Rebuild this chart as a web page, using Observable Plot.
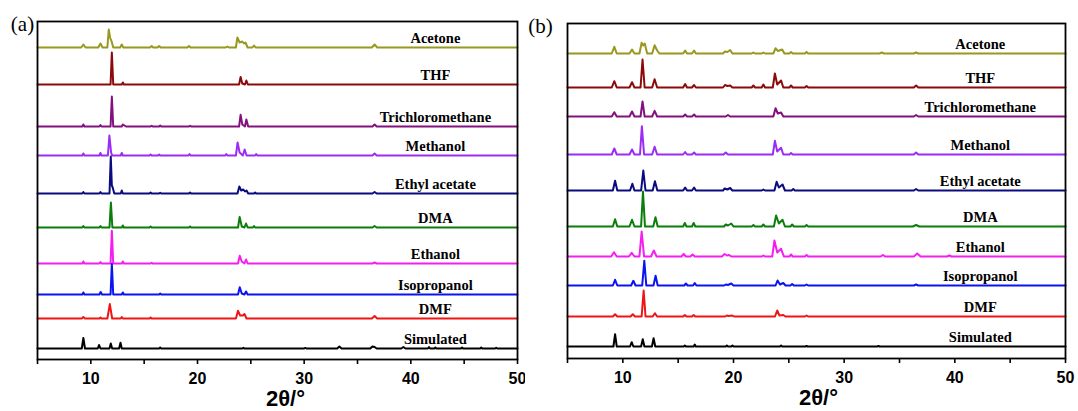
<!DOCTYPE html>
<html><head><meta charset="utf-8">
<script src="https://cdn.jsdelivr.net/npm/d3@7"></script>
<script src="https://cdn.jsdelivr.net/npm/@observablehq/plot@0.6"></script>
<style>
body{margin:0;background:#fff;}
#fig{position:relative;width:1078px;height:411px;background:#fff;}
#pa{position:absolute;left:0;top:0;}
#pb{position:absolute;left:525px;top:0;}
</style></head><body><div id="fig"><div id="pa"></div><div id="pb"></div></div>
<script>
// ---- categories ----
const solvents = ["Acetone","THF","Trichloromethane","Methanol","Ethyl acetate","DMA","Ethanol","Isopropanol","DMF","Simulated"];
const colors = ["#98981e","#8b0a0a","#83107f","#9a2cf5","#0b0b80","#0a7d0a","#f51ef0","#0a14f0","#f01414","#000000"];
// stacking offsets (a.u.)
const offsetsA = [312, 275, 233, 204, 166, 132, 96, 65, 41, 11];
const offsetsB = [305, 271, 242, 204, 168, 132, 102, 73, 42, 12];
// x ticks
const xTicks = [5,10,15,20,25,30,35,40,45,50];
const xTickLabels = ["","10","","20","","30","","40","","50"];
const xTitle = "2θ/°";
const tags = ["(a)","(b)"];

// ---- panel (a) patterns: [2θ, intensity] ----
const acetoneA = [[5,0],[9.1,0],[9.3,3],[9.5,0],[10.7,0],[10.9,4],[11.1,0],[11.55,0],[11.68,18],[11.8,10],[11.95,6],[12.1,0],[12.75,0],[12.9,3],[13.05,0],[15.55,0],[15.7,1.5],[15.85,0],[16.25,0],[16.4,1.5],[16.55,0],[19.05,0],[19.2,1.5],[19.35,0],[22.65,0],[22.8,1],[22.95,0],[23.6,0],[23.74,10],[23.95,5],[24.2,6],[24.35,4],[24.5,5],[24.7,0],[25.15,0],[25.3,2],[25.45,0],[36.35,0],[36.6,3],[36.85,0],[50,0]];
const thfA = [[5,0],[11.85,0],[11.97,32],[12.1,0],[12.9,0],[13.0,2],[13.1,0],[23.9,0],[24.04,7.5],[24.2,1],[24.45,0],[24.58,4],[24.72,0],[50,0]];
const trichloroA = [[5,0],[9.2,0],[9.3,2],[9.4,0],[10.8,0],[10.9,1.5],[11.0,0],[11.85,0],[11.97,30],[12.1,0],[12.9,0],[13.0,2],[13.15,1],[13.3,0],[15.6,0],[15.7,0.8],[15.8,0],[16.4,0],[16.5,1],[16.6,0],[19.2,0],[19.3,0.8],[19.4,0],[23.9,0],[24.04,11.7],[24.2,2],[24.45,0],[24.58,7],[24.75,0],[36.4,0],[36.6,2],[36.8,0],[50,0]];
const methanolA = [[5,0],[9.2,0],[9.3,2],[9.4,0],[10.8,0],[10.9,2.5],[11.0,0],[11.6,0],[11.74,20],[11.9,3],[12.0,0],[12.8,0],[12.9,2.5],[13.0,0],[15.5,0],[15.6,1],[15.7,0],[16.3,0],[16.4,1],[16.5,0],[19.15,0],[19.25,1.5],[19.35,0],[22.6,0],[22.7,1.5],[22.8,0],[23.6,0],[23.76,13],[23.95,3],[24.25,0],[24.42,6],[24.6,0],[25.4,0],[25.5,1.5],[25.6,0],[36.4,0],[36.6,2],[36.8,0],[50,0]];
const ethylA = [[5,0],[9.2,0],[9.3,1.5],[9.4,0],[10.8,0],[10.9,1.5],[11.0,0],[11.75,0],[11.87,37],[11.97,8],[12.05,6],[12.2,0],[12.8,0],[12.9,3],[13.0,0],[15.5,0],[15.6,1],[15.7,0],[16.4,0],[16.5,0.8],[16.6,0],[19.2,0],[19.3,1],[19.4,0],[23.75,0],[23.92,7],[24.1,3],[24.3,4],[24.45,2],[24.6,3],[24.75,0],[25.3,0],[25.4,1],[25.5,0],[36.4,0],[36.6,1.5],[36.8,0],[50,0]];
const dmaA = [[5,0],[9.2,0],[9.3,1.5],[9.4,0],[10.8,0],[10.9,1.5],[11.0,0],[11.75,0],[11.88,25],[12.02,0],[12.9,0],[13.0,2],[13.1,0],[15.5,0],[15.6,1],[15.7,0],[19.2,0],[19.3,1],[19.4,0],[23.8,0],[23.95,10.6],[24.15,1],[24.4,0],[24.55,4],[24.7,0],[25.2,0],[25.3,1.5],[25.4,0],[36.4,0],[36.6,1.5],[36.8,0],[50,0]];
const ethanolA = [[5,0],[9.2,0],[9.3,2],[9.4,0],[10.8,0],[10.9,1.5],[11.0,0],[11.85,0],[11.97,32.7],[12.1,0],[12.9,0],[13.0,2],[13.1,0],[15.6,0],[15.7,0.8],[15.8,0],[23.8,0],[23.96,7.7],[24.15,2],[24.4,0],[24.55,4],[24.7,0],[36.4,0],[36.6,1],[36.8,0],[50,0]];
const isoA = [[5,0],[9.2,0],[9.3,2],[9.4,0],[10.8,0],[10.92,2.5],[11.05,0],[11.85,0],[11.97,30.7],[12.1,0],[12.9,0],[13.0,2],[13.1,0],[16.4,0],[16.5,1],[16.6,0],[23.8,0],[23.96,7.3],[24.15,1],[24.4,0],[24.55,3],[24.7,0],[50,0]];
const dmfA = [[5,0],[9.15,0],[9.3,1.5],[9.45,0],[10.8,0],[10.9,1],[11.0,0],[11.55,0],[11.78,14.4],[12.0,0],[12.8,0],[12.9,1.5],[13.0,0],[15.5,0],[15.6,1],[15.7,0],[23.6,0],[23.8,7.7],[24.0,3],[24.25,3],[24.4,4.5],[24.6,0],[36.35,0],[36.6,2.5],[36.85,0],[50,0]];
const simA = [[5,0],[9.15,0],[9.3,10.6],[9.45,0],[10.65,0],[10.77,3.5],[10.9,0],[11.75,0],[11.87,5],[12.0,0],[12.65,0],[12.78,5.7],[12.9,0],[16.4,0],[16.5,1],[16.6,0],[24.2,0],[24.3,0.7],[24.4,0],[30,0],[30.1,0.6],[30.2,0],[33.1,0],[33.3,2],[33.5,0],[36.2,0],[36.4,2],[36.6,1.5],[36.8,0],[39.1,0],[39.3,1.5],[39.5,0],[41.6,0],[41.7,1.5],[41.8,0],[42.2,0],[42.3,1],[42.4,0],[44.7,0],[44.8,1],[44.9,0],[46.5,0],[46.6,1],[46.7,0],[47.9,0],[48,0.8],[48.1,0],[50,0]];

// ---- panel (b) patterns: [2θ, intensity] ----
const acetoneB = [[5,0],[9.0,0],[9.23,6.7],[9.45,0],[10.6,0],[10.83,4],[11.05,0],[11.5,0],[11.7,10.7],[11.85,8],[11.98,10],[12.2,0],[12.65,0],[12.87,8.3],[13.1,3],[13.3,0],[15.45,0],[15.63,3],[15.8,0],[16.25,0],[16.44,3],[16.6,0],[19.05,0],[19.23,2],[19.45,1.5],[19.7,3.5],[19.9,0],[21.65,0],[21.8,1],[21.95,0],[22.55,0],[22.7,1],[22.85,0],[23.6,0],[23.8,5.3],[24.0,2.5],[24.4,4],[24.6,0],[25.05,0],[25.2,1.5],[25.35,0],[26.45,0],[26.6,1.5],[26.75,0],[33.2,0],[33.4,1],[33.6,0],[36.3,0],[36.5,1],[36.7,0],[50,0]];
const thfB = [[5,0],[9.0,0],[9.23,6.3],[9.45,0],[10.6,0],[10.83,5.3],[11.05,0],[11.6,0],[11.78,28],[11.97,0],[12.65,0],[12.87,8.3],[13.1,0],[15.45,0],[15.63,3.5],[15.8,0],[16.25,0],[16.44,2.5],[16.6,0],[19.05,0],[19.23,2.5],[19.45,1.5],[19.7,2],[19.9,0],[21.65,0],[21.8,2],[21.95,0],[22.55,0],[22.7,3],[22.85,0],[23.55,0],[23.74,14],[23.95,3],[24.3,7],[24.5,0],[25.05,0],[25.2,2],[25.35,0],[26.45,0],[26.6,1.5],[26.75,0],[36.3,0],[36.5,2],[36.7,0],[50,0]];
const trichloroB = [[5,0],[9.0,0],[9.23,4.3],[9.45,0],[10.6,0],[10.83,5],[11.05,0],[11.6,0],[11.78,15],[11.97,0],[12.65,0],[12.87,5.7],[13.1,0],[15.45,0],[15.63,2],[15.8,0],[16.25,0],[16.44,2],[16.6,0],[19.3,0],[19.5,1.5],[19.7,0],[23.6,0],[23.8,8.3],[24.0,3],[24.3,4],[24.5,0],[36.3,0],[36.5,1.5],[36.7,0],[50,0]];
const methanolB = [[5,0],[9.0,0],[9.23,6],[9.45,0],[10.6,0],[10.83,5],[11.05,0],[11.55,0],[11.72,28.3],[11.92,0],[12.65,0],[12.87,7.7],[13.1,0],[15.45,0],[15.63,2.5],[15.8,0],[16.25,0],[16.44,2],[16.6,0],[19.1,0],[19.3,2],[19.5,0],[23.55,0],[23.74,13.7],[23.95,3],[24.3,6.7],[24.5,0],[25.05,0],[25.2,1.5],[25.35,0],[36.3,0],[36.5,2],[36.7,0],[50,0]];
const ethylB = [[5,0],[9.1,0],[9.3,9.7],[9.5,0],[10.65,0],[10.86,6.7],[11.05,0],[11.65,0],[11.85,20],[12.05,0],[12.7,0],[12.9,9.3],[13.12,0],[15.45,0],[15.63,3],[15.8,0],[16.25,0],[16.44,3],[16.6,0],[19.05,0],[19.2,2],[19.45,1],[19.7,2.5],[19.9,0],[22.55,0],[22.7,1],[22.85,0],[23.7,0],[23.9,8.7],[24.1,3],[24.43,6],[24.65,0],[25.25,0],[25.4,1.5],[25.55,0],[36.3,0],[36.5,1.5],[36.7,0],[50,0]];
const dmaB = [[5,0],[9.1,0],[9.3,7.3],[9.5,0],[10.6,0],[10.83,6.7],[11.05,0],[11.65,0],[11.82,35],[12.0,0],[12.75,0],[12.95,9.3],[13.15,0],[15.45,0],[15.6,3.5],[15.75,0],[16.25,0],[16.4,3.5],[16.55,0],[19.15,0],[19.3,2],[19.5,1],[19.8,3],[20.0,0],[21.65,0],[21.8,1.5],[21.95,0],[22.55,0],[22.7,2],[22.85,0],[23.65,0],[23.85,11],[24.1,3],[24.43,6.7],[24.65,0],[25.15,0],[25.3,2],[25.45,0],[26.45,0],[26.6,1.5],[26.75,0],[36.2,0],[36.5,1.5],[36.8,0],[50,0]];
const ethanolB = [[5,0],[8.95,0],[9.2,4.3],[9.45,0],[10.55,0],[10.8,3.7],[11.05,0],[11.5,0],[11.7,25],[11.92,0],[12.55,0],[12.8,6],[13.05,0],[15.3,0],[15.5,2.5],[15.7,0],[16.1,0],[16.3,2],[16.5,0],[18.95,0],[19.2,2.5],[19.4,1],[19.6,1.5],[19.8,0],[22.55,0],[22.7,1],[22.85,0],[23.5,0],[23.7,16],[23.95,4],[24.3,7.7],[24.55,0],[25.05,0],[25.2,2],[25.35,0],[26.45,0],[26.6,1.5],[26.75,0],[33.3,0],[33.5,1.5],[33.7,0],[36.3,0],[36.6,3],[36.9,0],[39.3,0],[39.5,1],[39.7,0],[50,0]];
const isoB = [[5,0],[9.1,0],[9.3,5.7],[9.5,0],[10.75,0],[10.95,4.7],[11.15,0],[11.75,0],[11.94,24.7],[12.12,0],[12.77,0],[12.96,9.7],[13.15,0],[15.55,0],[15.7,2],[15.85,0],[16.35,0],[16.5,2.5],[16.65,0],[19.15,0],[19.3,1],[19.5,0.5],[19.8,2],[20.0,0],[23.8,0],[23.98,5],[24.2,1],[24.5,2.5],[24.7,0],[25.15,0],[25.3,1.5],[25.45,0],[26.45,0],[26.6,1],[26.75,0],[36.3,0],[36.5,1],[36.7,0],[50,0]];
const dmfB = [[5,0],[9.1,0],[9.3,2.3],[9.5,0],[10.7,0],[10.9,2.3],[11.1,0],[11.7,0],[11.88,26],[12.05,0],[12.7,0],[12.9,3.3],[13.1,0],[15.45,0],[15.6,1.5],[15.75,0],[16.25,0],[16.4,1.5],[16.55,0],[19.25,0],[19.4,1],[19.55,0.5],[19.9,1],[20.05,0],[23.75,0],[23.95,6],[24.15,1],[24.5,1.5],[24.7,0],[26.45,0],[26.6,1],[26.75,0],[50,0]];
const simB = [[5,0],[9.15,0],[9.3,12.3],[9.45,0],[10.65,0],[10.8,4.3],[10.95,0],[11.65,0],[11.8,7.3],[11.95,0],[12.63,0],[12.78,8.3],[12.93,0],[15.5,0],[15.6,1],[15.7,0],[16.4,0],[16.5,2],[16.6,0],[19.3,0],[19.4,1],[19.5,0],[19.8,0],[19.9,1],[20.0,0],[24.2,0],[24.3,1],[24.4,0],[26.5,0],[26.6,0.6],[26.7,0],[33,0],[33.1,0.6],[33.2,0],[50,0]];

const seriesA = [acetoneA, thfA, trichloroA, methanolA, ethylA, dmaA, ethanolA, isoA, dmfA, simA];
const seriesB = [acetoneB, thfB, trichloroB, methanolB, ethylB, dmaB, ethanolB, isoB, dmfB, simB];

const tickLabel = new Map(xTicks.map((t, i) => [t, xTickLabels[i]]));
const SANS = "'Liberation Sans', Arial, sans-serif";
const SERIF = "'Liberation Serif', 'Times New Roman', serif";

function panel(series, offsets, opt) {
  const rows = [];
  series.forEach((pts, i) => pts.forEach(([x, v]) => rows.push({x, y: v + offsets[i], s: solvents[i]})));
  const labels = solvents.map((s, i) => ({s, y: offsets[i]}));
  return Plot.plot({
    width: opt.width, height: 411,
    marginLeft: opt.ml, marginRight: opt.mr, marginTop: opt.mt, marginBottom: opt.mb,
    style: {background: "white", overflow: "visible"},
    x: {domain: [5, 50], axis: null},
    y: {domain: [0, opt.yMax], axis: null},
    color: {domain: solvents, range: colors},
    marks: [
      Plot.line(rows, {x: "x", y: "y", z: "s", stroke: "s", strokeWidth: 2, strokeLinejoin: "round"}),
      Plot.text(labels, {x: () => 42.3, y: "y", text: "s", dy: -9, fontFamily: SERIF, fontWeight: "bold", fontSize: 14.5, fill: "black", lineAnchor: "middle"}),
      Plot.frame({stroke: "black", strokeWidth: 1.8}),
      Plot.axisX(xTicks, {tickSize: 5, tickPadding: 8, strokeWidth: 1.6, tickFormat: d => tickLabel.get(d),
        fontSize: 16, fontWeight: "bold", fontFamily: SANS, label: null}),
      Plot.text([xTitle], {frameAnchor: "bottom", dy: 39, dx: opt.titleDx, fontSize: 22, fontWeight: "bold", fontFamily: SANS, lineAnchor: "middle", fill: "black"}),
      Plot.text([opt.tag], {frameAnchor: "top-left", dx: opt.tagDx, dy: opt.tagDy, fontSize: 21, fontFamily: SERIF, lineAnchor: "middle", textAnchor: "middle", fill: "black"})
    ]
  });
}

document.getElementById("pa").append(panel(seriesA, offsetsA, {width: 525, ml: 37, mr: 8, mt: 21, mb: 52, yMax: 338, titleDx: 8, tag: tags[0], tagDx: -15, tagDy: 3}));
document.getElementById("pb").append(panel(seriesB, offsetsB, {width: 553, ml: 42, mr: 13, mt: 23, mb: 53, yMax: 335, titleDx: 2, tag: tags[1], tagDx: -27, tagDy: 2.5}));
</script></body></html>
